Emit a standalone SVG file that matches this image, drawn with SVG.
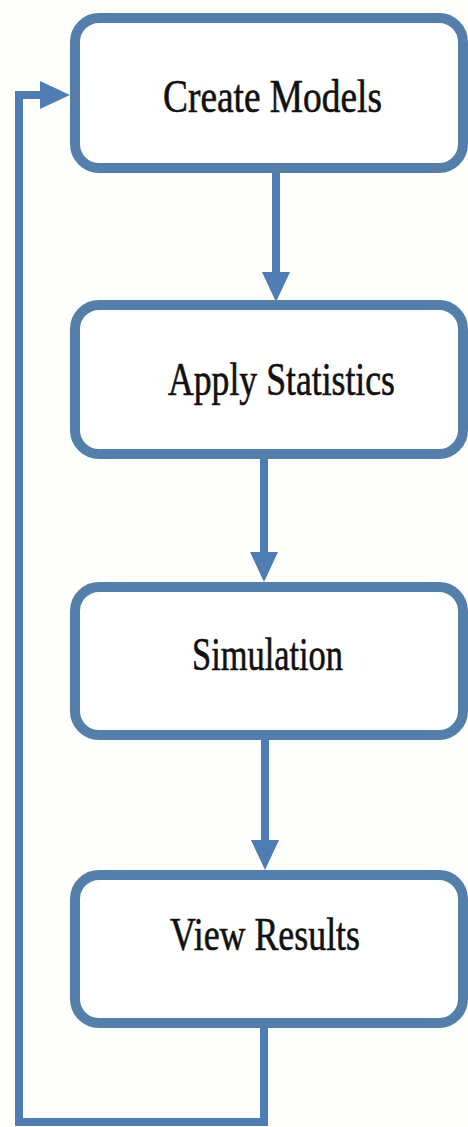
<svg xmlns="http://www.w3.org/2000/svg" width="468" height="1127" viewBox="0 0 468 1127">
  <defs>
    <style>
      .box { fill: #ffffff; stroke: #557fab; stroke-width: 10; }
      .lbl { font-family: "Liberation Serif", "Times New Roman", serif; font-size: 46px; fill: #111111; stroke: #111111; stroke-width: 0.6; }
      .con { fill: none; stroke: #4f7db3; stroke-width: 8; stroke-linejoin: miter; }
    </style>
    <marker id="arr" markerUnits="userSpaceOnUse" markerWidth="30" markerHeight="28" viewBox="0 0 30 28" refX="20" refY="14" orient="auto">
      <path d="M0,0 L30,14 L0,28 z" fill="#4f7db3"/>
    </marker>
  </defs>
  <rect x="0" y="0" width="468" height="1127" fill="#fefefc"/>

  <g id="connectors">
    <path class="con" d="M276,168 L276,292" marker-end="url(#arr)"/>
    <path class="con" d="M264,454 L264,572" marker-end="url(#arr)"/>
    <path class="con" d="M265,735 L265,860" marker-end="url(#arr)"/>
    <path class="con" d="M264,1023 L264,1122 L19,1122 L19,95 L60,95" marker-end="url(#arr)"/>
  </g>

  <g id="create-models">
    <rect class="box" x="75" y="18" width="388" height="150" rx="24"/>
    <text class="lbl" x="163" y="112" textLength="219" lengthAdjust="spacingAndGlyphs">Create Models</text>
  </g>
  <g id="apply-statistics">
    <rect class="box" x="75" y="305" width="388" height="149" rx="24"/>
    <text class="lbl" x="168" y="395" textLength="227" lengthAdjust="spacingAndGlyphs">Apply Statistics</text>
  </g>
  <g id="simulation">
    <rect class="box" x="75" y="587" width="388" height="148" rx="24"/>
    <text class="lbl" x="192" y="670" textLength="151" lengthAdjust="spacingAndGlyphs">Simulation</text>
  </g>
  <g id="view-results">
    <rect class="box" x="75" y="875" width="388" height="148" rx="24"/>
    <text class="lbl" x="170" y="950" textLength="190" lengthAdjust="spacingAndGlyphs">View Results</text>
  </g>
</svg>
